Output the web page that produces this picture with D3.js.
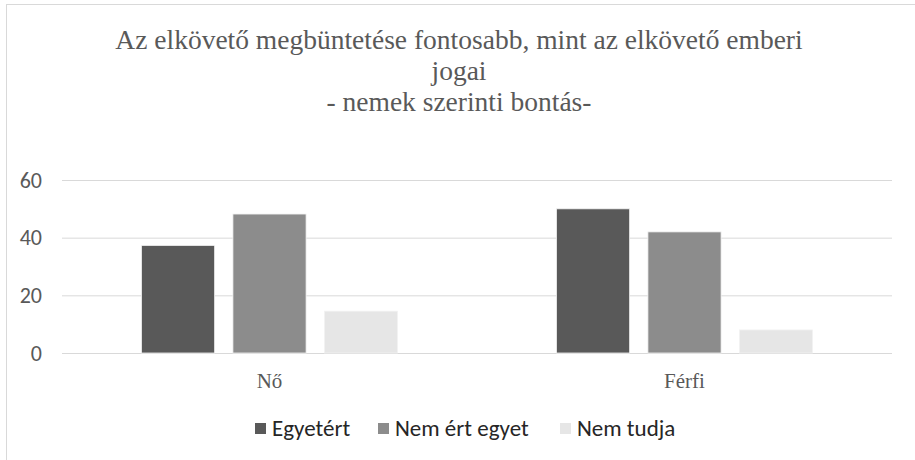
<!DOCTYPE html>
<html>
  <head>
    <meta charset="utf-8">
    <script type="text/javascript" src="https://d3js.org/d3.v7.min.js"></script>
    <style>
      body { margin: 0; background: #fff; }
    </style>
  </head>
  <body>
  </body>
  <script>

  var categories = ["Nő", "Férfi"];
  var seriesNames = ["Egyetért", "Nem ért egyet", "Nem tudja"];
  var egyetert = [37.3, 50];
  var nemErtEgyet = [48.2, 42];
  var nemTudja = [14.5, 8];
  var yTicks = [0, 20, 40, 60];
  var titleLines = ["Az elkövető megbüntetése fontosabb, mint az elkövető emberi", "jogai", "- nemek szerinti bontás-"];

  var seriesValues = [egyetert, nemErtEgyet, nemTudja];
  var colors = ["#595959", "#8c8c8c", "#e6e6e6"];

  var width = 915, height = 460;
  var plot = { left: 62, right: 892, top: 180, bottom: 353 };

  var svg = d3.select("body").append("svg")
              .attr("width", width)
              .attr("height", height);

  // chart frame
  svg.append("rect")
     .attr("x", 6.5).attr("y", 4.5)
     .attr("width", width).attr("height", height)
     .attr("fill", "none")
     .attr("stroke", "#d9d9d9");

  // title
  svg.append("g").selectAll("text")
     .data(titleLines)
     .enter().append("text")
     .attr("x", 459)
     .attr("y", function(d, i) { return 49 + i * 31; })
     .attr("text-anchor", "middle")
     .style("font-family", "'Liberation Serif', 'Times New Roman', serif")
     .style("font-size", "27.5px")
     .style("fill", "#595959")
     .text(function(d) { return d; });

  var y = d3.scaleLinear().domain([0, 60]).range([plot.bottom, plot.top]);

  var x0 = d3.scaleBand()
             .domain(categories)
             .range([plot.left, plot.right])
             .paddingInner(0.383)
             .paddingOuter(0.1915);

  var x1 = d3.scaleBand()
             .domain(seriesNames)
             .range([0, x0.bandwidth()])
             .paddingInner(0.2);

  // gridlines + y labels
  var yAxis = d3.axisLeft(y)
                .tickValues(yTicks)
                .tickSize(-(plot.right - plot.left))
                .tickPadding(20);

  var gy = svg.append("g")
              .attr("transform", "translate(" + plot.left + ",0)")
              .call(yAxis);
  gy.select(".domain").remove();
  gy.selectAll(".tick line").attr("stroke", "#d9d9d9");
  gy.selectAll(".tick text")
    .style("font-family", "Calibri, Carlito, 'Liberation Sans', sans-serif")
    .style("font-size", "22px")
    .style("fill", "#595959");

  // bars
  var groups = svg.append("g").selectAll("g")
                  .data(categories)
                  .enter().append("g")
                  .attr("transform", function(d) { return "translate(" + x0(d) + ",0)"; });

  groups.selectAll("rect")
        .data(function(d, ci) {
          return seriesNames.map(function(s, si) { return { s: s, v: seriesValues[si][ci], c: colors[si] }; });
        })
        .enter().append("rect")
        .attr("x", function(d) { return x1(d.s); })
        .attr("y", function(d) { return y(d.v); })
        .attr("width", x1.bandwidth())
        .attr("height", function(d) { return y(0) - y(d.v); })
        .attr("fill", function(d) { return d.c; })
        .attr("stroke", "#f2f2f2")
        .attr("stroke-width", 0.8);

  // category labels
  var xAxis = d3.axisBottom(x0).tickSize(0).tickPadding(20);
  var gx = svg.append("g")
              .attr("transform", "translate(0," + plot.bottom + ")")
              .call(xAxis);
  gx.select(".domain").remove();
  gx.selectAll(".tick text")
    .style("font-family", "'Liberation Serif', 'Times New Roman', serif")
    .style("font-size", "21px")
    .style("fill", "#595959");

  // legend
  var legendX = [255, 378, 560];
  var legend = svg.append("g").selectAll("g")
                  .data(seriesNames)
                  .enter().append("g")
                  .attr("transform", function(d, i) { return "translate(" + legendX[i] + ",423)"; });

  legend.append("rect")
        .attr("width", 11).attr("height", 11)
        .attr("fill", function(d, i) { return colors[i]; });

  legend.append("text")
        .attr("x", 17)
        .attr("y", 13)
        .style("font-family", "Calibri, Carlito, 'Liberation Sans', sans-serif")
        .style("font-size", "23px")
        .style("fill", "#262626")
        .text(function(d) { return d; });

  </script>
</html>
